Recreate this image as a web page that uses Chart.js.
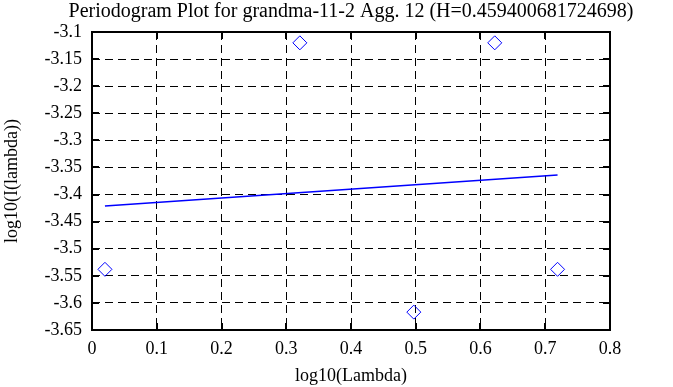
<!DOCTYPE html>
<html>
<head>
<meta charset="utf-8">
<script src="https://cdn.jsdelivr.net/npm/chart.js@4/dist/chart.umd.min.js"></script>
<style>
  html, body { margin: 0; padding: 0; background: #fff; }
  #wrap { width: 673px; height: 387px; }
</style>
</head>
<body>
<div id="wrap"><canvas id="chart"></canvas></div>
<script>
// datos
const titulo = "Periodogram Plot for grandma-11-2 Agg. 12 (H=0.459400681724698)";
const logLambda = [0.020, 0.321, 0.497, 0.622, 0.719];
const logPeriodograma = [-3.538, -3.120, -3.617, -3.120, -3.538];
const ajusteX = [0.020, 0.719];
const ajusteY = [-3.421, -3.364];
const xTicks = [0, 0.1, 0.2, 0.3, 0.4, 0.5, 0.6, 0.7, 0.8];
const xTickLabels = ["0", "0.1", "0.2", "0.3", "0.4", "0.5", "0.6", "0.7", "0.8"];
const yTicks = [-3.65, -3.6, -3.55, -3.5, -3.45, -3.4, -3.35, -3.3, -3.25, -3.2, -3.15, -3.1];
const yTickLabels = ["-3.65", "-3.6", "-3.55", "-3.5", "-3.45", "-3.4", "-3.35", "-3.3", "-3.25", "-3.2", "-3.15", "-3.1"];

const fuente = "'Liberation Serif', 'Times New Roman', serif";

// marco y marcas hacia adentro, estilo gnuplot
const marco = {
    id: "marco",
    beforeDatasetsDraw(chart) {
        const { ctx, chartArea: a, scales } = chart;
        ctx.save();
        ctx.strokeStyle = "#000";
        ctx.lineWidth = 2;
        ctx.beginPath();
        xTicks.forEach(v => {
            const x = Math.round(scales.x.getPixelForValue(v));
            ctx.moveTo(x, a.bottom); ctx.lineTo(x, a.bottom - 7);
            ctx.moveTo(x, a.top); ctx.lineTo(x, a.top + 7);
        });
        yTicks.forEach(v => {
            const y = Math.round(scales.y.getPixelForValue(v));
            ctx.moveTo(a.left, y); ctx.lineTo(a.left + 7, y);
            ctx.moveTo(a.right, y); ctx.lineTo(a.right - 7, y);
        });
        ctx.stroke();
        ctx.strokeRect(a.left, a.top, a.right - a.left, a.bottom - a.top);
        ctx.restore();
    },
    // titulo centrado sobre el area del grafico, sin comprimir
    afterDraw(chart) {
        const { ctx, chartArea: a } = chart;
        ctx.save();
        ctx.fillStyle = "#000";
        ctx.font = "20px " + fuente;
        ctx.textAlign = "center";
        ctx.textBaseline = "middle";
        ctx.fillText(titulo, (a.left + a.right) / 2, 12);
        ctx.restore();
    }
};

new Chart(document.getElementById("chart"), {
    type: "scatter",
    data: {
        datasets: [
            {
                label: "datos",
                data: logLambda.map((x, i) => ({ x: x, y: logPeriodograma[i] })),
                pointStyle: "rectRot",
                pointRadius: 7,
                pointHoverRadius: 7,
                borderColor: "#0000ff",
                backgroundColor: "rgba(0,0,0,0)",
                pointBorderWidth: 1
            },
            {
                label: "ajuste",
                data: ajusteX.map((x, i) => ({ x: x, y: ajusteY[i] })),
                showLine: true,
                pointRadius: 0,
                borderColor: "#0000ff",
                borderWidth: 1.5
            }
        ]
    },
    options: {
        responsive: true,
        maintainAspectRatio: false,
        animation: false,
        layout: { padding: { left: 0, right: 63, top: 32, bottom: 0 } },
        plugins: {
            legend: { display: false },
            tooltip: { enabled: false },
            title: { display: false }
        },
        scales: {
            x: {
                type: "linear",
                min: 0,
                max: 0.8,
                afterBuildTicks: s => { s.ticks = xTicks.map(v => ({ value: v })); },
                afterFit: s => { s.height = 57; },
                ticks: {
                    color: "#000",
                    padding: 8,
                    maxRotation: 0,
                    font: { family: fuente, size: 18 },
                    callback: (v, i) => xTickLabels[i]
                },
                grid: { color: "#000", lineWidth: 1, drawTicks: false },
                border: { display: false, dash: [8, 5] },
                title: {
                    display: true,
                    text: "log10(Lambda)",
                    color: "#000",
                    font: { family: fuente, size: 18 },
                    padding: { top: 0, bottom: 0 }
                }
            },
            y: {
                type: "linear",
                min: -3.65,
                max: -3.1,
                afterBuildTicks: s => { s.ticks = yTicks.map(v => ({ value: v })); },
                afterFit: s => { s.width = 92; },
                ticks: {
                    color: "#000",
                    padding: 10,
                    font: { family: fuente, size: 18 },
                    callback: (v, i) => yTickLabels[i]
                },
                grid: { color: "#000", lineWidth: 1, drawTicks: false },
                border: { display: false, dash: [8, 5] },
                title: {
                    display: true,
                    text: "log10(I(lambda))",
                    color: "#000",
                    font: { family: fuente, size: 18 },
                    padding: { top: 1, bottom: 0 }
                }
            }
        }
    },
    plugins: [marco]
});
</script>
</body>
</html>
